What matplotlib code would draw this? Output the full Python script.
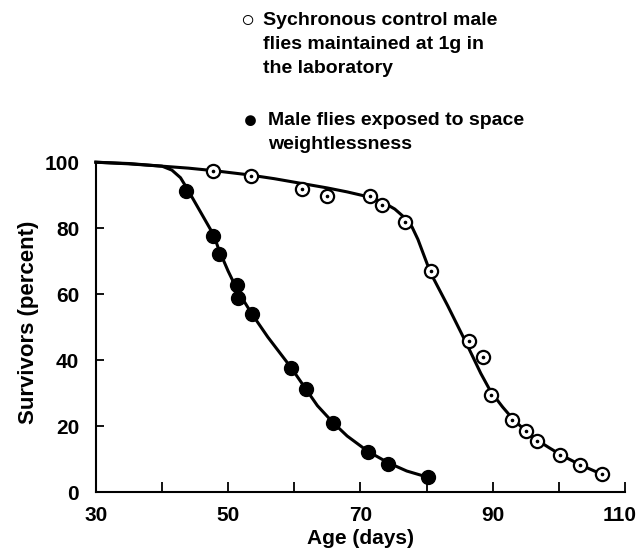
import matplotlib
matplotlib.use('Agg')
from matplotlib import pyplot as plt
from matplotlib.transforms import ScaledTranslation

plt.rcParams['font.family'] = ['Liberation Sans', 'DejaVu Sans']
plt.rcParams['font.weight'] = 'bold'

# observed points, space flight flies (filled)
idade_espaco = [43.6, 47.7, 48.6, 51.4, 51.5, 53.6, 59.5, 61.7, 65.8, 71.1, 74.2, 80.2]
sobrev_espaco = [91.2, 77.6, 72.2, 62.8, 58.8, 54.0, 37.6, 31.2, 20.9, 12.1, 8.5, 4.5]

# observed points, 1g control flies (open)
idade_controle = [47.7, 53.5, 61.2, 65.0, 71.4, 73.3, 76.8, 80.6, 86.4, 88.5, 89.7,
                  92.9, 95.0, 96.7, 100.2, 103.2, 106.5]
sobrev_controle = [97.3, 95.8, 91.8, 89.7, 89.7, 87.0, 82.0, 67.0, 45.8, 41.0, 29.4,
                   21.8, 18.5, 15.5, 11.2, 8.2, 5.5]

# fitted curves
curva_espaco_x = [30, 35, 40, 41.5, 42.8, 43.8, 46, 47.8, 48.6, 50, 51.5, 53.6, 56,
                  59.5, 61.7, 63.5, 65.8, 68, 71.1, 74.2, 77, 80.2]
curva_espaco_y = [100, 99.6, 98.8, 97.6, 95.3, 92, 84.3, 78, 73.5, 67, 60.8, 54, 47,
                  37.8, 31.4, 26.2, 21.2, 17, 12.4, 8.9, 6.4, 4.5]
curva_controle_x = [30, 35, 40, 44, 48, 53, 57, 61, 65, 68, 71, 73.3, 75.2, 76.8,
                    77.8, 78.7, 79.6, 80.6, 83.2, 86.0, 88.2, 89.7, 91.5, 93, 95, 96.7,
                    98.5, 100.3, 103, 106.5]
curva_controle_y = [100, 99.5, 98.8, 98.2, 97.4, 96.2, 95, 93.6, 92.2, 91, 89.6, 88,
                    85.8, 83, 80.4, 76.6, 71.8, 66.5, 56.5, 45.2, 36, 30.5, 25.8, 22.3,
                    18.5, 15.8, 13.5, 11.3, 8.5, 5.4]

xticks = [30, 50, 70, 90, 110]
xticks_menores = [40, 60, 80, 100]
yticks = [0, 20, 40, 60, 80, 100]

fig = plt.figure(figsize=(6.39, 5.48), dpi=100)
ax = fig.add_axes([0.150, 0.102, 0.828, 0.602])

ax.plot(curva_controle_x, curva_controle_y, c='black', lw=2.2, zorder=2, clip_on=False)
ax.plot(curva_espaco_x, curva_espaco_y, c='black', lw=2.2, zorder=2, clip_on=False)

ax.plot(idade_espaco, sobrev_espaco, 'o', ms=10, mfc='black', mec='black',
        zorder=3, clip_on=False)
ax.plot(idade_controle, sobrev_controle, 'o', ms=9.5, mfc='white', mec='black',
        mew=1.6, zorder=3, clip_on=False)
ax.plot(idade_controle, sobrev_controle, 'o', ms=1.6, c='black', zorder=4, clip_on=False)

ax.set_xlim(30, 110)
ax.set_ylim(0, 100)
ax.spines['top'].set_visible(False)
ax.spines['right'].set_visible(False)
ax.spines['left'].set_linewidth(1.5)
ax.spines['bottom'].set_linewidth(1.5)

ax.set_xticks(xticks)
ax.set_xticks(xticks_menores, minor=True)
ax.set_yticks(yticks)
ax.tick_params(axis='x', which='both', direction='in', length=7, width=1.3,
               pad=10, labelsize=15)
ax.tick_params(axis='y', direction='in', length=6, width=1.3, pad=12, labelsize=15)
for lbl in ax.get_xticklabels() + ax.get_yticklabels():
    lbl.set_fontweight('bold')

# 110 sits a little left of its tick, as in the original
ultimo = ax.get_xticklabels()[-1]
ultimo.set_transform(ultimo.get_transform() + ScaledTranslation(-4 / 72, 0, fig.dpi_scale_trans))

ax.set_xlabel('Age (days)', fontsize=15, fontweight='bold', labelpad=3)
ax.set_ylabel('Survivors (percent)', fontsize=16, fontweight='bold')
ax.yaxis.set_label_coords(-0.108, 0.515)

# legend written as text above the plot
fig.text(0.387, 0.963, '\u25cb', fontsize=17, ha='center', va='center')
fig.text(0.412, 0.963, 'Sychronous control male', fontsize=14, va='center')
fig.text(0.412, 0.919, 'flies maintained at 1g in', fontsize=14, va='center')
fig.text(0.412, 0.875, 'the laboratory', fontsize=14, va='center')
fig.text(0.392, 0.780, '\u25cf', fontsize=18, ha='center', va='center')
fig.text(0.419, 0.780, 'Male flies exposed to space', fontsize=14, va='center')
fig.text(0.419, 0.736, 'weightlessness', fontsize=14, va='center')

fig.savefig('out.png', dpi=100)
